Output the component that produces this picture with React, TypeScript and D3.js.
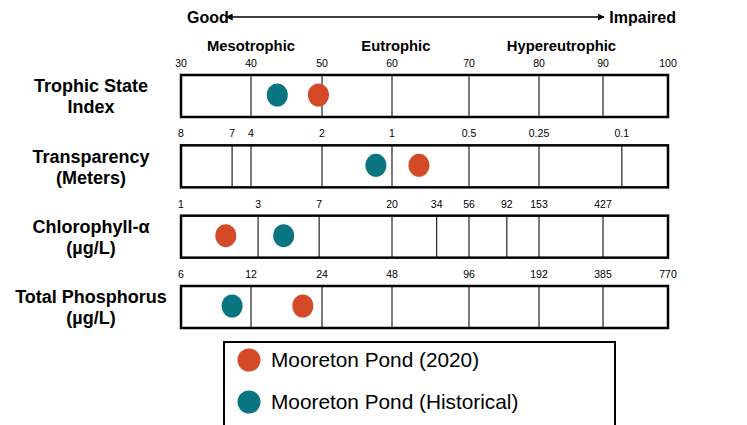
import * as d3 from "d3";
import React, {useEffect, useRef} from "react";

// row titles (two lines each)
const rowTitles: string[][] = [
  ["Trophic State", "Index"],
  ["Transparency", "(Meters)"],
  ["Chlorophyll-α", "(µg/L)"],
  ["Total Phosphorus", "(µg/L)"],
];

// tick labels for each row and the TSI value each one sits on
const tsiTicks = ["30", "40", "50", "60", "70", "80", "90", "100"];
const tsiTicksAt = [30, 40, 50, 60, 70, 80, 90, 100];
const sdTicks = ["8", "7", "4", "2", "1", "0.5", "0.25", "0.1"];
const sdTicksAt = [30, 37.3, 40, 50, 60, 70, 80, 92.9];
const chlTicks = ["1", "3", "7", "20", "34", "56", "92", "153", "427"];
const chlTicksAt = [30, 41, 49.6, 60, 65.8, 70, 75.4, 80, 90];
const tpTicks = ["6", "12", "24", "48", "96", "192", "385", "770"];
const tpTicksAt = [30, 40, 50, 60, 70, 80, 90, 100];

const tickLabels = [tsiTicks, sdTicks, chlTicks, tpTicks];
const tickPositions = [tsiTicksAt, sdTicksAt, chlTicksAt, tpTicksAt];

// values expressed on the TSI scale, one per row
const series = ["Mooreton Pond (2020)", "Mooreton Pond (Historical)"];
const values2020 = [49.5, 63.5, 36.4, 47.3];
const valuesHistorical = [43.7, 57.7, 44.6, 37.3];

const zones = ["Mesotrophic", "Eutrophic", "Hypereutrophic"];
const zonesAt = [40, 60.5, 83.5];

const colors = ["#D44927", "#087580"];

const App: React.FC = () => {
  const ref = useRef<SVGSVGElement | null>(null);

  useEffect(() => {
    const svg = d3.select(ref.current);
    svg.selectAll('*').remove();
    const width = 747;
    const height = 425;
    svg.attr("width", width).attr("height", height);
    const font = "'Liberation Sans', Arial, sans-serif";

    // the grid as drawn is not quite even, so piecewise
    const x = d3.scaleLinear()
      .domain([30, 40, 50, 60, 70, 80, 90, 100])
      .range([181, 251, 322, 392, 469, 539, 603, 668]);

    const rowTop = d3.scaleLinear().domain([0, 3]).range([75, 286]);
    const boxH = 42;

    // arrow header
    const defs = svg.append('defs');
    ['start', 'end'].forEach((k) => {
      defs.append('marker')
        .attr('id', 'arrow-' + k)
        .attr('viewBox', '0 0 10 10')
        .attr('refX', k === 'end' ? 9 : 1)
        .attr('refY', 5)
        .attr('markerWidth', 7)
        .attr('markerHeight', 7)
        .attr('markerUnits', 'userSpaceOnUse')
        .attr('orient', 'auto-start-reverse')
        .append('path')
        .attr('d', 'M0,0 L10,5 L0,10 z')
        .attr('fill', 'black');
    });
    svg.append('line')
      .attr('x1', 232).attr('x2', 604)
      .attr('y1', 17).attr('y2', 17)
      .attr('stroke', 'black').attr('stroke-width', 1.5)
      .attr('marker-start', 'url(#arrow-start)')
      .attr('marker-end', 'url(#arrow-end)');
    svg.append('text')
      .attr('x', 187).attr('y', 23)
      .style('font-family', font).style('font-weight', 'bold').style('font-size', '16px')
      .text('Good');
    svg.append('text')
      .attr('x', 676).attr('y', 23).attr('text-anchor', 'end')
      .style('font-family', font).style('font-weight', 'bold').style('font-size', '16px')
      .text('Impaired');

    zones.forEach((z, i) => {
      svg.append('text')
        .attr('x', x(zonesAt[i])).attr('y', 51)
        .attr('text-anchor', 'middle')
        .style('font-family', font).style('font-weight', 'bold').style('font-size', '14.8px')
        .text(z);
    });

    rowTitles.forEach((title, r) => {
      const top = rowTop(r);
      const g = svg.append('g');

      // row title
      title.forEach((line, li) => {
        g.append('text')
          .attr('x', 91)
          .attr('y', top + boxH / 2 + (li === 0 ? -10 : 11))
          .attr('dy', '0.35em')
          .attr('text-anchor', 'middle')
          .style('font-family', font).style('font-weight', 'bold').style('font-size', '18px')
          .text(line);
      });

      // grid lines and tick labels
      tickPositions[r].forEach((t, i) => {
        const px = x(t);
        const edge = i === 0 || t === 100;
        if (!edge) {
          g.append('line')
            .attr('x1', px).attr('x2', px)
            .attr('y1', top).attr('y2', top + boxH)
            .attr('stroke', '#222').attr('stroke-width', 1.2);
        }
        g.append('text')
          .attr('x', px).attr('y', top - 8)
          .attr('text-anchor', 'middle')
          .style('font-family', font).style('font-size', '10.5px')
          .text(tickLabels[r][i]);
      });

      g.append('rect')
        .attr('x', x(30)).attr('y', top)
        .attr('width', x(100) - x(30)).attr('height', boxH)
        .attr('fill', 'none')
        .attr('stroke', 'black').attr('stroke-width', 2.5);

      [values2020, valuesHistorical].forEach((vals, s) => {
        g.append('ellipse')
          .attr('cx', x(vals[r]))
          .attr('cy', top + boxH / 2 - 1)
          .attr('rx', 10.5).attr('ry', 11.5)
          .attr('fill', colors[s]);
      });
    });

    // legend
    const lg = svg.append('g');
    lg.append('rect')
      .attr('x', 224).attr('y', 342)
      .attr('width', 391).attr('height', 100)
      .attr('fill', 'white')
      .attr('stroke', 'black').attr('stroke-width', 2);
    series.forEach((name, i) => {
      const cy = 360 + i * 42;
      lg.append('circle')
        .attr('cx', 249).attr('cy', cy).attr('r', 11.5)
        .attr('fill', colors[i]);
      lg.append('text')
        .attr('x', 271).attr('y', cy).attr('dy', '0.36em')
        .style('font-family', font).style('font-size', '20.8px')
        .text(name);
    });

    return () => {
      svg.selectAll('*').remove();
    };
  }, []);

  return (
    <>
      <style>{"body{margin:0;overflow:hidden}"}</style>
      <svg ref={ref} style={{display: 'block'}}/>
    </>
  );
};

export default App;
